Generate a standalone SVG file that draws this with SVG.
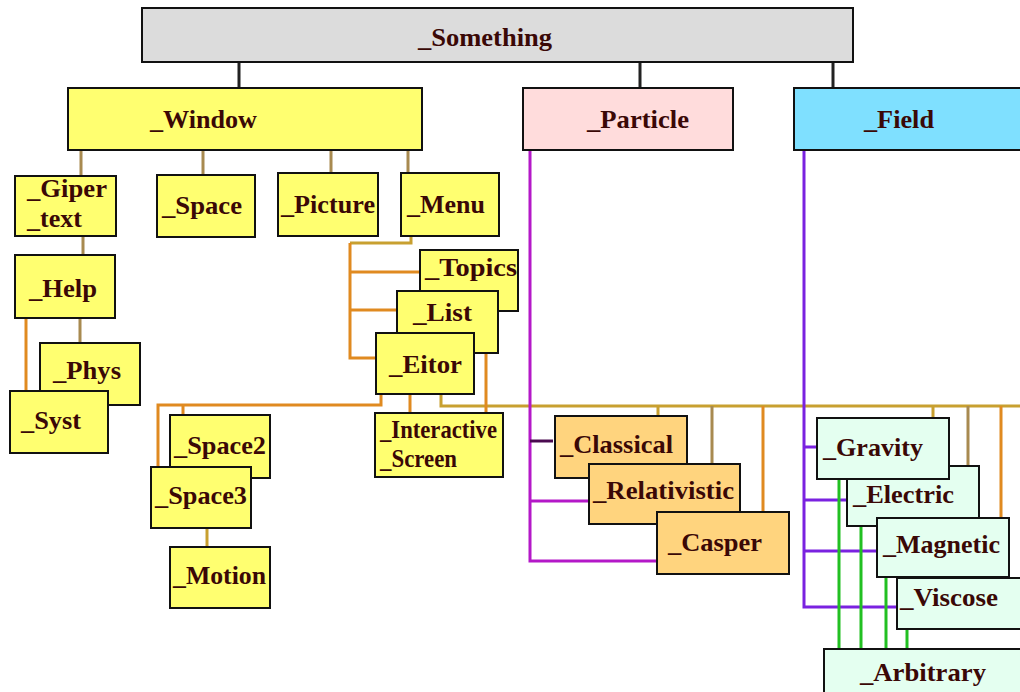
<svg xmlns="http://www.w3.org/2000/svg" width="1020" height="692" viewBox="0 0 1020 692">
<style>
.n{stroke:#111;stroke-width:2}
.y{fill:#ffff70}
.o{fill:#ffd47e}
.g{fill:#e4fff0}
text{font-family:"Liberation Serif","Times New Roman",serif;font-weight:bold;font-size:26px;fill:#3a0806}
.c{fill:none;stroke-width:3}
.k{stroke:#222}
.br{stroke:#a88a50}
.or{stroke:#e08a20}
.ol{stroke:#c8a030}
.pu{stroke:#b418c8}
.vi{stroke:#7a22e0}
.gr{stroke:#22c022}
</style>
<rect width="1020" height="692" fill="#fff"/>
<g id="connectors">
<path class="c k" d="M239 62V88M640 62V88M833 62V88"/>
<path class="c br" d="M81 150V176M203 150V175M331 150V173M408 150V173"/>
<path class="c br" d="M83 236V255M80 318V343"/>
<path class="c or" d="M26 318V391"/>
<path class="c ol" d="M411 236V243H350"/>
<path class="c or" d="M350 243V358H376M350 272H420M350 310H397"/>
<path class="c or" d="M381 394V405H158V467M183 405V415"/>
<path class="c ol" d="M441 394V406H1020"/>
<path class="c or" d="M410 394V413M486 353V413"/>
<path class="c ol" d="M207 528V547"/>
<path class="c ol" d="M658 406V416M933 406V418"/>
<path class="c br" d="M712 406V464M968 406V466"/>
<path class="c or" d="M763 406V512M1001 406V518"/>
<path class="c pu" d="M530 150V561H657M530 501H590"/>
<path class="c" stroke="#4a0a50" d="M530 441H553"/>
<path class="c vi" d="M804 150V607H897M804 447H817M804 500H847M804 551H877"/>
<path class="c gr" d="M839 479V649M861 526V649M886 577V649M907 629V649"/>
</g>
<g id="Something"><rect class="n" x="142" y="8" width="711" height="54" fill="#dcdcdc" stroke="#555"/><text x="418" y="46" font-size="25" textLength="134" lengthAdjust="spacingAndGlyphs">_Something</text></g>
<g id="Window"><rect class="n y" x="68" y="88" width="354" height="62"/><text x="150" y="128" font-size="24" textLength="107" lengthAdjust="spacingAndGlyphs">_Window</text></g>
<g id="Particle"><rect class="n" x="523" y="88" width="210" height="62" fill="#ffdcdc"/><text x="587" y="128" textLength="102" lengthAdjust="spacingAndGlyphs">_Particle</text></g>
<g id="Field"><rect class="n" x="794" y="88" width="236" height="62" fill="#7fe0ff"/><text x="864" y="128" textLength="70" lengthAdjust="spacingAndGlyphs">_Field</text></g>
<g id="GiperText"><rect class="n y" x="15" y="176" width="101" height="60"/><text x="27" y="197" font-size="23" textLength="80" lengthAdjust="spacingAndGlyphs">_Giper</text><text x="27" y="227" font-size="23" textLength="55" lengthAdjust="spacingAndGlyphs">_text</text></g>
<g id="Space"><rect class="n y" x="157" y="175" width="98" height="62"/><text x="162" y="214" textLength="80" lengthAdjust="spacingAndGlyphs">_Space</text></g>
<g id="Picture"><rect class="n y" x="278" y="173" width="100" height="63"/><text x="281" y="213" textLength="94" lengthAdjust="spacingAndGlyphs">_Picture</text></g>
<g id="Menu"><rect class="n y" x="401" y="173" width="98" height="63"/><text x="407" y="213" textLength="78" lengthAdjust="spacingAndGlyphs">_Menu</text></g>
<g id="Help"><rect class="n y" x="15" y="255" width="100" height="63"/><text x="29" y="297" textLength="68" lengthAdjust="spacingAndGlyphs">_Help</text></g>
<g id="Phys"><rect class="n y" x="40" y="343" width="100" height="62"/><text x="53" y="379" textLength="68" lengthAdjust="spacingAndGlyphs">_Phys</text></g>
<g id="Syst"><rect class="n y" x="10" y="391" width="98" height="62"/><text x="21" y="429" textLength="60" lengthAdjust="spacingAndGlyphs">_Syst</text></g>
<g id="Topics"><rect class="n y" x="420" y="250" width="98" height="61"/><text x="425" y="276" textLength="92" lengthAdjust="spacingAndGlyphs">_Topics</text></g>
<g id="List"><rect class="n y" x="397" y="291" width="101" height="62"/><text x="413" y="321" textLength="59" lengthAdjust="spacingAndGlyphs">_List</text></g>
<g id="Eitor"><rect class="n y" x="376" y="333" width="98" height="61"/><text x="389" y="373" textLength="73" lengthAdjust="spacingAndGlyphs">_Eitor</text></g>
<g id="InteractiveScreen"><rect class="n y" x="375" y="413" width="128" height="64"/><text x="380" y="438" font-size="20" textLength="117" lengthAdjust="spacingAndGlyphs">_Interactive</text><text x="380" y="467" font-size="20" textLength="77" lengthAdjust="spacingAndGlyphs">_Screen</text></g>
<g id="Space2"><rect class="n y" x="170" y="415" width="100" height="63"/><text x="174" y="454" textLength="92" lengthAdjust="spacingAndGlyphs">_Space2</text></g>
<g id="Space3"><rect class="n y" x="151" y="467" width="100" height="61"/><text x="155" y="504" textLength="92" lengthAdjust="spacingAndGlyphs">_Space3</text></g>
<g id="Motion"><rect class="n y" x="170" y="547" width="100" height="61"/><text x="173" y="584" textLength="93" lengthAdjust="spacingAndGlyphs">_Motion</text></g>
<g id="Classical"><rect class="n o" x="555" y="416" width="132" height="62"/><text x="560" y="453" textLength="113" lengthAdjust="spacingAndGlyphs">_Classical</text></g>
<g id="Relativistic"><rect class="n o" x="589" y="464" width="151" height="60"/><text x="593" y="499" textLength="141" lengthAdjust="spacingAndGlyphs">_Relativistic</text></g>
<g id="Casper"><rect class="n o" x="657" y="512" width="132" height="62"/><text x="668" y="551" textLength="94" lengthAdjust="spacingAndGlyphs">_Casper</text></g>
<g id="Electric"><rect class="n g" x="847" y="466" width="132" height="60"/><text x="853" y="503" textLength="101" lengthAdjust="spacingAndGlyphs">_Electric</text></g>
<g id="Viscose"><rect class="n g" x="897" y="578" width="133" height="51"/><text x="900" y="606" textLength="98" lengthAdjust="spacingAndGlyphs">_Viscose</text></g>
<g id="Gravity"><rect class="n g" x="817" y="418" width="132" height="61"/><text x="823" y="456" textLength="100" lengthAdjust="spacingAndGlyphs">_Gravity</text></g>
<g id="Magnetic"><rect class="n g" x="877" y="518" width="132" height="59"/><text x="883" y="553" textLength="117" lengthAdjust="spacingAndGlyphs">_Magnetic</text></g>
<g id="Arbitrary"><rect class="n g" x="824" y="649" width="206" height="53"/><text x="860" y="681" textLength="126" lengthAdjust="spacingAndGlyphs">_Arbitrary</text></g>
</svg>
